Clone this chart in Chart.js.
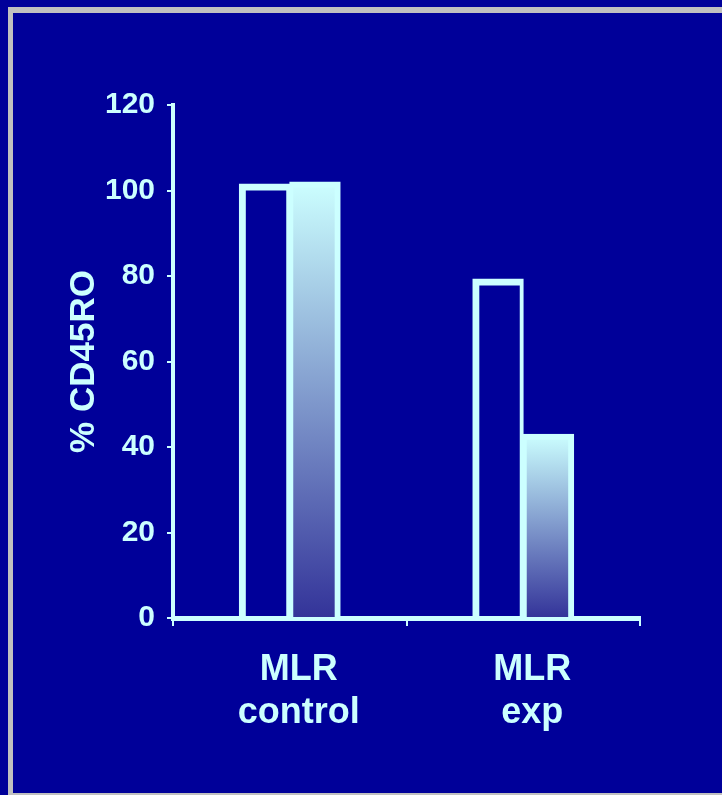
<!DOCTYPE html>
<html>
<head>
<meta charset="utf-8">
<script src="https://cdn.jsdelivr.net/npm/chart.js@4/dist/chart.umd.min.js"></script>
<style>
  body { margin: 0; background: #000099; overflow: hidden; }
  #frame {
    position: absolute; left: 8px; top: 7px; width: 760px; height: 780px;
    border-left: 5px solid #c0c0c0; border-top: 6px solid #c0c0c0; border-bottom: 3px solid #c0c0c0;
  }
  #cd45 { position: absolute; left: 0; top: 0; }
</style>
</head>
<body>
<div id="frame"></div>
<canvas id="cd45" width="722" height="795"></canvas>
<script>
// data
var groups = [['MLR', 'control'], ['MLR', 'exp']];
var openBars = [101.5, 79.3];
var fadedBars = [102, 43];
var yTicks = [0, 20, 40, 60, 80, 100, 120];

var lightCyan = '#ccffff';
var darkBlue = '#333399';

function fadeFill(context) {
  var chart = context.chart;
  if (!chart.chartArea) {
    return lightCyan;
  }
  var y = chart.scales.y;
  var top = y.getPixelForValue(context.raw);
  var bottom = y.getPixelForValue(0);
  var g = chart.ctx.createLinearGradient(0, top, 0, bottom);
  g.addColorStop(0, lightCyan);
  g.addColorStop(1, darkBlue);
  return g;
}

var bold = function (size) {
  return { family: 'Arial, "Liberation Sans", sans-serif', size: size, weight: 'bold', lineHeight: 1.2 };
};

var chart = new Chart(document.getElementById('cd45'), {
  type: 'bar',
  data: {
    labels: groups,
    datasets: [{
      label: 'open',
      data: openBars,
      backgroundColor: 'rgba(0,0,0,0)',
      borderColor: lightCyan,
      borderWidth: { top: 6, left: 6, right: 3, bottom: 0 },
      borderSkipped: false,
      inflateAmount: 0.5
    }, {
      label: 'faded',
      data: fadedBars,
      backgroundColor: fadeFill,
      borderColor: lightCyan,
      borderWidth: { top: 6, left: 4, right: 6, bottom: 0 },
      borderSkipped: false,
      inflateAmount: 0.5
    }]
  },
  options: {
    responsive: false,
    animation: false,
    categoryPercentage: 0.432,
    barPercentage: 1,
    layout: { padding: { left: 0, top: 105, right: 82, bottom: 0 } },
    plugins: {
      legend: { display: false },
      tooltip: { enabled: false }
    },
    scales: {
      x: {
        afterFit: function (scale) { scale.height = 177; },
        grid: { drawOnChartArea: false, drawTicks: true, tickLength: 8, color: lightCyan, lineWidth: 2 },
        border: { display: true, color: lightCyan, width: 5 },
        ticks: { color: lightCyan, font: bold(36), padding: 22, maxRotation: 0, labelOffset: 9 }
      },
      y: {
        min: 0,
        max: 120,
        afterFit: function (scale) { scale.width = 173; },
        afterBuildTicks: function (scale) {
          scale.ticks = yTicks.map(function (v) { return { value: v }; });
        },
        grid: { drawOnChartArea: false, drawTicks: true, tickLength: 6, color: lightCyan, lineWidth: 2 },
        border: { display: true, color: lightCyan, width: 4 },
        ticks: { color: lightCyan, font: bold(30), padding: 12 },
        title: {
          display: true,
          text: '% CD45RO',
          color: lightCyan,
          font: bold(35),
          padding: { top: 63, bottom: 0 }
        }
      }
    }
  }
});
</script>
</body>
</html>
